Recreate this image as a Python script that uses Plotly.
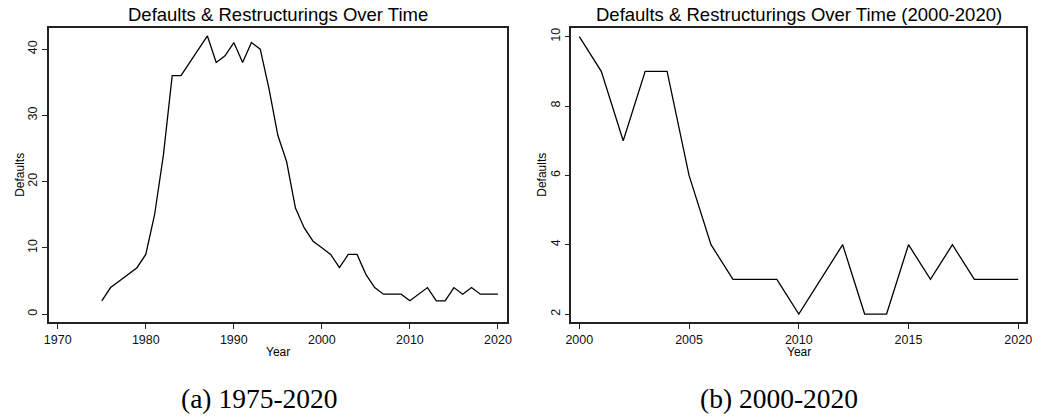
import plotly.graph_objects as go

# Annual count of sovereign defaults & restructurings
years = list(range(1975, 2021))
defaults = [2, 4, 5, 6, 7, 9, 15, 24, 36, 36,
            38, 40, 42, 38, 39, 41, 38, 41, 40, 34,
            27, 23, 16, 13, 11, 10, 9, 7, 9, 9,
            6, 4, 3, 3, 3, 2, 3, 4, 2, 2,
            4, 3, 4, 3, 3, 3]

# Recent sub-period
recent_years = [y for y in years if y >= 2000]
recent_defaults = [d for y, d in zip(years, defaults) if y >= 2000]

left_xticks = [1970, 1980, 1990, 2000, 2010, 2020]
left_yticks = [0, 10, 20, 30, 40]
right_xticks = [2000, 2005, 2010, 2015, 2020]
right_yticks = [2, 4, 6, 8, 10]

W, H = 1044, 419
SANS = "Liberation Sans, Arial, Helvetica, sans-serif"
SERIF = "Liberation Serif, Times New Roman, serif"
AX = "#222222"

fig = go.Figure()
fig.add_trace(go.Scatter(x=years, y=defaults, mode="lines",
                         line=dict(color="black", width=1.3),
                         xaxis="x", yaxis="y", showlegend=False))
fig.add_trace(go.Scatter(x=recent_years, y=recent_defaults, mode="lines",
                         line=dict(color="black", width=1.3),
                         xaxis="x2", yaxis="y2", showlegend=False))

def px_x(p):
    return p / W

def px_y(p):
    return 1 - p / H

axis_common = dict(showgrid=False, zeroline=False, showline=True, mirror=True,
                   linecolor=AX, linewidth=1.5, ticks="outside", ticklen=5,
                   tickwidth=1, tickcolor=AX,
                   tickfont=dict(family=SANS, size=12.5, color="#111111"))

fig.update_layout(
    width=W, height=H,
    margin=dict(l=0, r=0, t=0, b=0),
    paper_bgcolor="white", plot_bgcolor="white",
    xaxis=dict(domain=[px_x(43), px_x(507)], range=[1968.95, 2021.05],
               tickvals=left_xticks, anchor="y", **axis_common),
    yaxis=dict(domain=[px_y(322), px_y(28)], range=[-1.2, 43.2],
               tickvals=left_yticks, tickangle=-90, anchor="x", **axis_common),
    xaxis2=dict(domain=[px_x(572), px_x(1032)], range=[1999.64, 2020.36],
                tickvals=right_xticks, anchor="y2", **axis_common),
    yaxis2=dict(domain=[px_y(322), px_y(28)], range=[1.77, 10.25],
                tickvals=right_yticks, tickangle=-90, anchor="x2", **axis_common),
)

def label(text, x, y, size, family=SANS, angle=0):
    fig.add_annotation(text=text, x=px_x(x), y=px_y(y), xref="paper", yref="paper",
                       showarrow=False, textangle=angle, xanchor="center", yanchor="middle",
                       font=dict(family=family, size=size, color="black"))

# Panel titles
label("Defaults & Restructurings Over Time", 275, 15, 18.5)
label("Defaults & Restructurings Over Time (2000-2020)", 802, 15, 18.5)

# Axis titles
label("Year", 275, 352, 12)
label("Year", 802, 352, 12)
label("Defaults", 14, 175, 12, angle=-90)
label("Defaults", 542, 175, 12, angle=-90)

# Sub-figure captions
label("(a) 1975-2020", 256, 398, 27.5, family=SERIF)
label("(b) 2000-2020", 782, 398, 27.5, family=SERIF)

fig.write_html("out.html")
